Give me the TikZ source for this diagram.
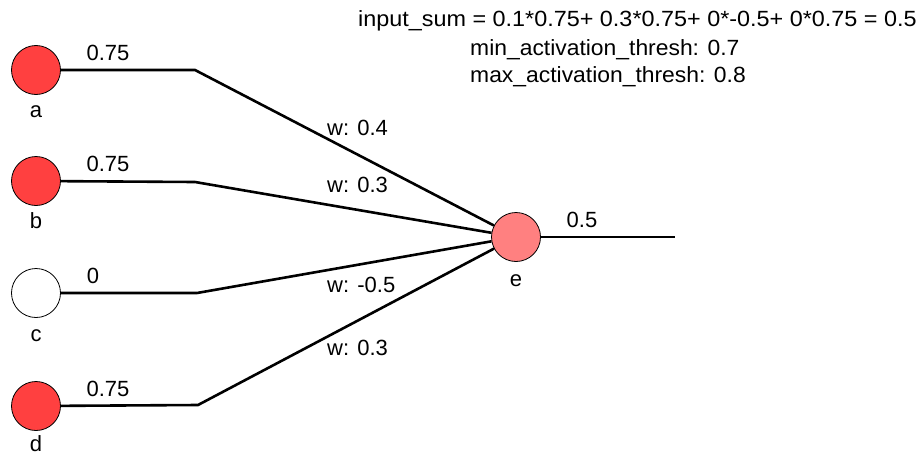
\documentclass[tikz,border=0pt]{standalone}
\usepackage{graphicx}
\usepackage{fontspec}
\setmainfont{Liberation Sans}
\definecolor{activa}{RGB}{255,64,64}
\definecolor{media}{RGB}{255,128,128}
\begin{document}
\begin{tikzpicture}[x=1pt,y=-1pt,
    neurona/.style={circle, draw=black, line width=0.8pt, minimum size=49pt, inner sep=0pt},
    conexion/.style={line width=2.6pt},
    texto/.style={font=\fontsize{22}{26}\selectfont, inner sep=0pt, anchor=base}]
    \useasboundingbox (0,0) rectangle (920,455);

    % Neuronas de entrada
    \node[neurona, fill=activa] (a) at (36,70) {};
    \node[neurona, fill=activa] (b) at (36,181) {};
    \node[neurona, fill=white] (c) at (36,293) {};
    \node[neurona, fill=activa] (d) at (36,406) {};
    \node[texto] (na) at (36,117) {a};
    \node[texto] (nb) at (36,228) {b};
    \node[texto] (nc) at (36,341) {c};
    \node[texto] (nd) at (36,451) {d};

    % Neurona de salida
    \node[neurona, fill=media] (e) at (516,237) {};
    \node[texto] (ne) at (516,286) {e};

    % Codos de las conexiones
    \coordinate (ka) at (195,70);
    \coordinate (kb) at (195,182);
    \coordinate (kc) at (197,293);
    \coordinate (kd) at (198,405);
    \coordinate (fin) at (675,237);

    % Conexiones
    \draw[conexion] (a) -- (ka) -- (e);
    \draw[conexion] (b) -- (kb) -- (e);
    \draw[conexion] (c) -- (kc) -- (e);
    \draw[conexion] (d) -- (kd) -- (e);
    \draw[conexion] (e) -- (fin);

    % Activaciones
    \node[texto] (va) at (108,60) {0.75};
    \node[texto] (vb) at (108,171) {0.75};
    \node[texto] (vc) at (93,283) {0};
    \node[texto] (vd) at (108,396) {0.75};
    \node[texto] (ve) at (582,227) {0.5};

    % Pesos
    \node[texto, anchor=base west] (wa) at (327,135) {w: 0.4};
    \node[texto, anchor=base west] (wb) at (327,192) {w: 0.3};
    \node[texto, anchor=base west] (wc) at (327,292) {w: -0.5};
    \node[texto, anchor=base west] (wd) at (327,355) {w: 0.3};

    % Suma y umbrales
    \node[texto, anchor=base west] (suma) at (358,27) {\scalebox{1.063}[1]{input\_sum = 0.1*0.75+ 0.3*0.75+ 0*-0.5+ 0*0.75 = 0.5}};
    \node[texto, anchor=base west] (umin) at (470,55) {\scalebox{1.04}[1]{min\_activation\_thresh: 0.7}};
    \node[texto, anchor=base west] (umax) at (470,82) {\scalebox{1.04}[1]{max\_activation\_thresh: 0.8}};
\end{tikzpicture}
\end{document}
